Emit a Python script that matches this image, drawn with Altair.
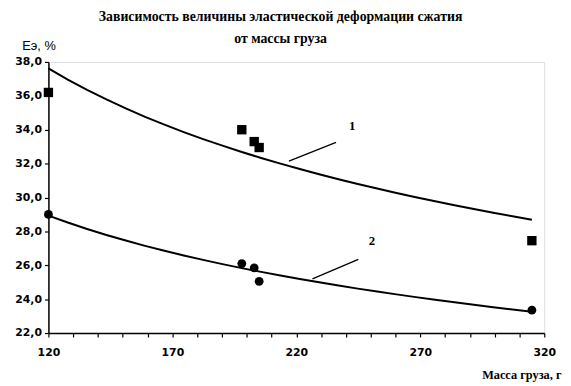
import altair as alt
import pandas as pd

mass = [120, 198, 203, 205, 315]
series1 = [36.2, 34.0, 33.3, 32.95, 27.45]
series2 = [29.0, 26.1, 25.85, 25.05, 23.35]

x_ticks = list(range(120, 321, 10))
x_labelled = [120, 170, 220, 270, 320]
y_ticks = list(range(22, 39, 2))

# annotation labels and leader lines (data coordinates)
lab_text = ["1", "2"]
lab_x = [242.5, 250.5]
lab_y = [34.2, 27.4]
lead_x1 = [217.0, 226.5]
lead_y1 = [32.15, 25.2]
lead_x2 = [236.0, 245.0]
lead_y2 = [33.25, 26.35]

df = pd.DataFrame({
    "x": mass * 2,
    "y": series1 + series2,
    "s": ["1"] * len(mass) + ["2"] * len(mass),
})
lab = pd.DataFrame({"t": lab_text, "x": lab_x, "y": lab_y})
lead = pd.DataFrame({"x": lead_x1, "y": lead_y1, "x2": lead_x2, "y2": lead_y2})

xs = alt.Scale(domain=[120, 320], nice=False, zero=False)
ys = alt.Scale(domain=[22, 38], nice=False, zero=False)

lab_expr = "indexof(" + str(x_labelled) + ", datum.value) >= 0 ? datum.label : ''"

x_axis = alt.Axis(
    values=x_ticks, labelExpr=lab_expr, labelOverlap=False,
    format="d", grid=False, domainColor="black", domainWidth=1.5,
    tickColor="black", tickWidth=1.2, tickSize=4,
    labelFont="DejaVu Sans", labelFontWeight="bold", labelFontSize=11,
    labelColor="black", labelPadding=10, labelFlush=False,
    title="Масса груза, г", titleFont="Liberation Serif", titleFontWeight="bold",
    titleFontSize=12.5, titleColor="black", titleAlign="right", titleX=520, titleY=42,
    titleBaseline="middle")
y_axis = alt.Axis(
    values=y_ticks, labelExpr="replace(format(datum.value, '.1f'), '.', ',')",
    labelOverlap=False,
    grid=False, domainColor="black", domainWidth=1.5,
    tickColor="black", tickWidth=1.2, tickSize=4,
    labelFont="DejaVu Sans", labelFontWeight="bold", labelFontSize=11,
    labelColor="black", labelPadding=3, labelFlush=False,
    title="Еэ, %", titleAngle=0, titleFont="Liberation Sans", titleFontWeight="normal",
    titleFontSize=13, titleColor="black", titleAlign="left", titleX=-27, titleY=-17,
    titleBaseline="middle")

x_enc = alt.X("x:Q", scale=xs, axis=x_axis)
y_enc = alt.Y("y:Q", scale=ys, axis=y_axis)

base = alt.Chart(df)

curves = base.transform_regression("x", "y", method="pow", groupby=["s"]).mark_line(
    color="black", strokeWidth=2).encode(x=x_enc, y=y_enc, detail="s:N")

pts = base.mark_point(filled=True, color="black", opacity=1).encode(
    x=x_enc, y=y_enc,
    shape=alt.Shape("s:N", scale=alt.Scale(domain=["1", "2"], range=["square", "circle"]), legend=None),
    size=alt.Size("s:N", scale=alt.Scale(domain=["1", "2"], range=[90, 80]), legend=None))

leaders = alt.Chart(lead).mark_rule(color="black", strokeWidth=1.3).encode(
    x=x_enc, y=y_enc, x2="x2:Q", y2="y2:Q")

labels = alt.Chart(lab).mark_text(font="Liberation Serif", fontSize=13, fontWeight="bold",
                                  color="black").encode(x=x_enc, y=y_enc, text="t:N")

chart = alt.layer(curves, pts, leaders, labels).properties(
    width=503, height=275,
    autosize=alt.AutoSizeParams(type="none"),
    padding={"left": 41, "top": 52, "right": 19, "bottom": 51},
    title=alt.TitleParams(
        ["Зависимость величины эластической деформации сжатия", "от массы груза"],
        font="Liberation Serif", fontWeight="bold", fontSize=14, color="black",
        anchor="middle", dx=-16, offset=-7, lineHeight=23),
).configure_view(stroke=None).configure_axis(labelOverlap=False, labelBound=False
).configure(background="white")

chart.save("out.html", embed_options={"renderer": "svg", "actions": False})
